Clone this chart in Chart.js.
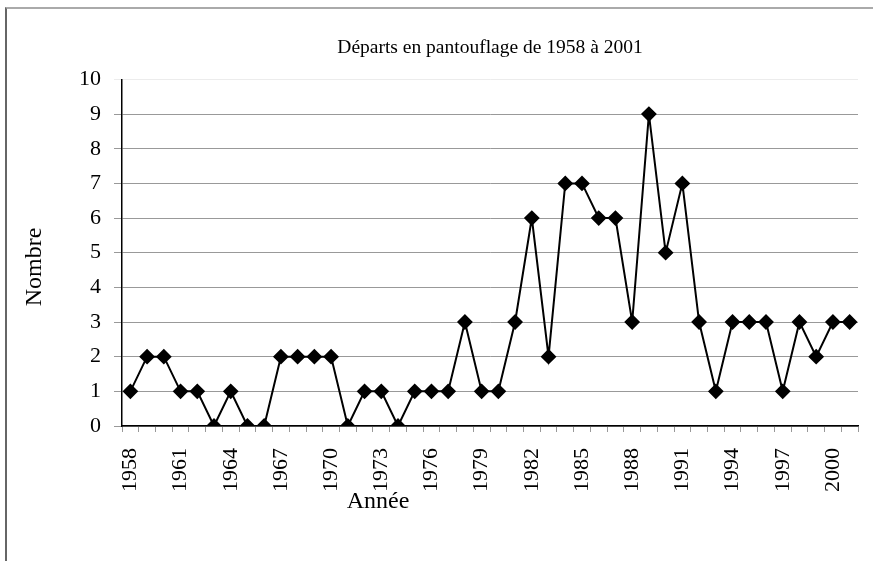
<!DOCTYPE html>
<html lang="fr">
<head>
    <meta charset="UTF-8">
    <title>Départs en pantouflage de 1958 à 2001</title>
    <style>
        body {
            margin: 0;
            padding: 0;
            background-color: #fff;
            overflow: hidden;
        }

        .frame {
            position: absolute;
            left: 5px;
            top: 7px;
            width: 900px;
            height: 600px;
            border-top: 2px solid #aaa;
            border-left: 2px solid #666;
        }

        .chart-box {
            position: absolute;
            left: 0;
            top: 0;
            width: 873px;
            height: 561px;
        }
    </style>
</head>
<body>
    <div class="frame"></div>
    <div class="chart-box">
        <canvas id="chart"></canvas>
    </div>

    <script src="https://cdn.jsdelivr.net/npm/chart.js"></script>
    <script>
        // Data
        const years = [1958, 1959, 1960, 1961, 1962, 1963, 1964, 1965, 1966, 1967, 1968,
            1969, 1970, 1971, 1972, 1973, 1974, 1975, 1976, 1977, 1978, 1979, 1980, 1981,
            1982, 1983, 1984, 1985, 1986, 1987, 1988, 1989, 1990, 1991, 1992, 1993, 1994,
            1995, 1996, 1997, 1998, 1999, 2000, 2001];
        const departures = [1, 2, 2, 1, 1, 0, 1, 0, 0, 2, 2,
            2, 2, 0, 1, 1, 0, 1, 1, 1, 3, 1, 1, 3,
            6, 2, 7, 7, 6, 6, 3, 9, 5, 7, 3, 1, 3,
            3, 3, 1, 3, 2, 3, 3];
        const yearTickLabels = [1958, 1961, 1964, 1967, 1970, 1973, 1976, 1979, 1982,
            1985, 1988, 1991, 1994, 1997, 2000];

        const serif = "'Liberation Serif', 'Times New Roman', serif";

        // axis titles are placed where the original has them (not centred)
        const axisTitles = {
            id: 'axisTitles',
            afterDraw(chart) {
                const ctx = chart.ctx;
                ctx.save();
                ctx.fillStyle = '#000';
                ctx.font = '24px ' + serif;
                ctx.textAlign = 'center';
                ctx.textBaseline = 'middle';
                ctx.fillText('Année', 378, 502);
                ctx.translate(35, 267);
                ctx.rotate(-Math.PI / 2);
                ctx.fillText('Nombre', 0, 0);
                ctx.restore();
            }
        };

        new Chart(document.getElementById('chart'), {
            type: 'line',
            data: {
                labels: years,
                datasets: [{
                    label: 'Nombre',
                    data: departures,
                    borderColor: '#000',
                    backgroundColor: '#000',
                    borderWidth: 2,
                    tension: 0,
                    pointStyle: 'rectRot',
                    pointRadius: 6.5,
                    pointHoverRadius: 6.5
                }]
            },
            options: {
                responsive: true,
                maintainAspectRatio: false,
                animation: false,
                layout: {
                    padding: { left: 0, right: 15, top: 0, bottom: 0 }
                },
                plugins: {
                    legend: { display: false },
                    tooltip: { enabled: false },
                    title: {
                        display: true,
                        fullSize: false,
                        text: 'Départs en pantouflage de 1958 à 2001',
                        color: '#000',
                        font: { family: serif, size: 19.5, weight: 'normal' },
                        padding: { top: 36, bottom: 20 }
                    }
                },
                scales: {
                    x: {
                        offset: true,
                        afterFit(scale) {
                            scale.height = 135;
                            scale.paddingLeft = 0;
                            scale.paddingRight = 0;
                        },
                        grid: {
                            offset: true,
                            drawOnChartArea: false,
                            drawTicks: true,
                            tickLength: 6,
                            color: '#999'
                        },
                        border: { color: '#000', width: 1.5 },
                        ticks: {
                            autoSkip: false,
                            minRotation: 90,
                            maxRotation: 90,
                            padding: 16,
                            color: '#000',
                            font: { family: serif, size: 22 },
                            callback: function(value, index) {
                                const y = years[index];
                                return yearTickLabels.includes(y) ? String(y) : '';
                            }
                        }
                    },
                    y: {
                        min: 0,
                        max: 10,
                        afterFit(scale) { scale.width = 122; },
                        grid: {
                            tickLength: 8,
                            color: ctx => ctx.tick && ctx.tick.value === 10 ? '#ececec' : '#999'
                        },
                        border: { color: '#000', width: 1.5 },
                        ticks: {
                            stepSize: 1,
                            padding: 13,
                            color: '#000',
                            font: { family: serif, size: 22 }
                        }
                    }
                }
            },
            plugins: [axisTitles]
        });
    </script>
</body>
</html>
